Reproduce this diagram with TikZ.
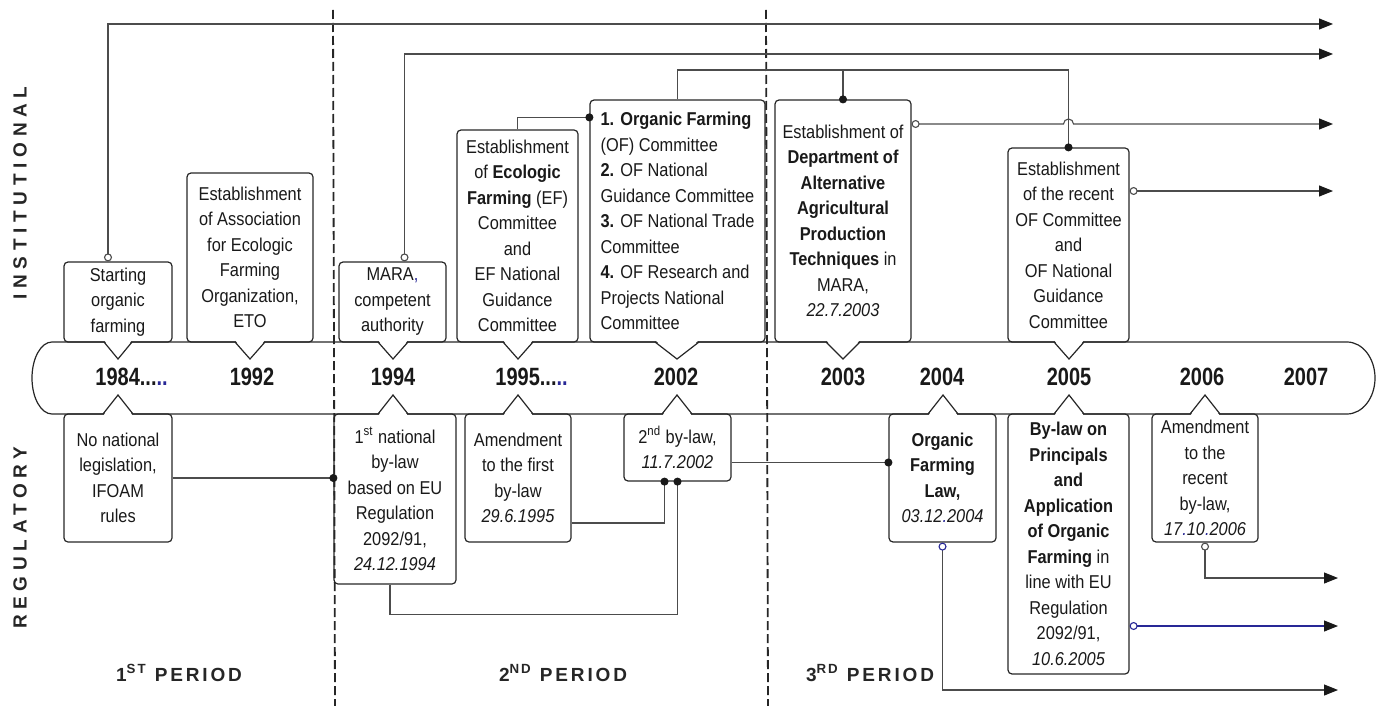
\documentclass[tikz,border=0pt]{standalone}
\usepackage{fontspec}
\setmainfont{Liberation Sans}[FakeStretch=0.88]
\newfontfamily\yearfont{Liberation Sans}[FakeStretch=0.8]
\newfontfamily\spacedfont{Liberation Sans}[LetterSpace=30]
\newfontfamily\periodfont{Liberation Sans}[LetterSpace=15]
\usepackage{tikz}
\usetikzlibrary{arrows.meta}
\definecolor{navy}{RGB}{40,40,150}

\begin{document}
\begin{tikzpicture}[
        x=0.5pt, y=-0.5pt,
        eventbox/.style={rectangle, draw=black!85, line width=0.6pt, rounded corners=2pt, inner sep=0pt, align=center, text=black!90, font=\fontsize{9.3}{12.75}\selectfont},
        frame/.style={draw=black!85, line width=0.6pt},
        year/.style={inner sep=0pt, text=black!90, font=\fontsize{12.5}{14}\selectfont\yearfont\bfseries},
        period/.style={inner sep=0pt, text=black!85, font=\fontsize{9.5}{11}\selectfont\periodfont\bfseries},
        side/.style={inner sep=0pt, rotate=90, text=black!85, font=\fontsize{9.5}{11}\selectfont\spacedfont\bfseries},
        divider/.style={draw=black!85, line width=0.9pt, dash pattern=on 4.5pt off 2pt},
        link/.style={draw=black!70, line width=0.55pt},
        outarrow/.style={{Circle[open, length=4pt]}-{Triangle[length=7pt, width=5.5pt, color=black!90]}},
        dotend/.style={-{Circle[length=4pt, color=black!90]}, shorten >=-2pt}
    ]

    \useasboundingbox (0,0) rectangle (1380,706);

    % Period dividers
    \coordinate (div1a) at (333,10);
    \coordinate (div1b) at (335,706);
    \coordinate (div2a) at (766,10);
    \coordinate (div2b) at (768,706);
    \draw[divider] (div1a) -- (div1b);
    \draw[divider] (div2a) -- (div2b);

    % Timeline bar
    \draw[frame] (52,342) -- (1347,342) arc[start angle=-90, end angle=90, x radius=28, y radius=36]
        -- (52,414) arc[start angle=90, end angle=270, x radius=20, y radius=36] -- cycle;

    % Years
    \node[year, anchor=west] (y1984) at (95,377) {1984...{\color{navy}..}};
    \node[year] (y1992) at (252,377) {1992};
    \node[year] (y1994) at (393,377) {1994};
    \node[year, anchor=west] (y1995) at (495,377) {1995...{\color{navy}..}};
    \node[year] (y2002) at (676,377) {2002};
    \node[year] (y2003) at (843,377) {2003};
    \node[year] (y2004) at (942,377) {2004};
    \node[year] (y2005) at (1069,377) {2005};
    \node[year] (y2006) at (1202,377) {2006};
    \node[year] (y2007) at (1306,377) {2007};

    % Institutional events above the bar
    \node[eventbox, minimum width=54pt, minimum height=40pt] (ins0) at (118,302) {Starting\\organic\\farming};
    \node[eventbox, minimum width=63pt, minimum height=84.5pt] (ins1) at (250,257.5) {Establishment\\of Association\\for Ecologic\\Farming\\Organization,\\ETO};
    \node[eventbox, minimum width=53.5pt, minimum height=40pt] (ins2) at (392.5,302) {MARA{\color{navy},}\\competent\\authority};
    \node[eventbox, minimum width=60.5pt, minimum height=106pt] (ins3) at (517.5,236) {Establishment\\of \textbf{Ecologic}\\\textbf{Farming} (EF)\\Committee\\and\\EF National\\Guidance\\Committee};
    \node[eventbox, align=left, minimum width=87.5pt, minimum height=121pt] (ins4) at (677.5,221) {\textbf{1. Organic Farming}\\(OF) Committee\\\textbf{2.} OF National\\Guidance Committee\\\textbf{3.} OF National Trade\\Committee\\\textbf{4.} OF Research and\\Projects National\\Committee};
    \node[eventbox, minimum width=68pt, minimum height=121pt] (ins5) at (843,221) {Establishment of\\\textbf{Department of}\\\textbf{Alternative}\\\textbf{Agricultural}\\\textbf{Production}\\\textbf{Techniques} in\\MARA,\\\textit{22.7.2003}};
    \node[eventbox, minimum width=60.5pt, minimum height=97pt] (ins6) at (1068.5,245) {Establishment\\of the recent\\OF Committee\\and\\OF National\\Guidance\\Committee};

    % Regulatory events below the bar
    \node[eventbox, minimum width=54pt, minimum height=64pt] (reg0) at (118,478) {No national\\legislation,\\IFOAM\\rules};
    \node[eventbox, minimum width=61pt, minimum height=85pt] (reg1) at (395,499) {1\textsuperscript{st} national\\by-law\\based on EU\\Regulation\\2092/91,\\\textit{24.12.1994}};
    \node[eventbox, minimum width=53pt, minimum height=64pt] (reg2) at (518,478) {Amendment\\to the first\\by-law\\\textit{29.6.1995}};
    \node[eventbox, minimum width=53.5pt, minimum height=33.5pt] (reg3) at (677.5,447.5) {2\textsuperscript{nd} by-law,\\\textit{11.7.2002}};
    \node[eventbox, minimum width=53.5pt, minimum height=64pt] (reg4) at (942.5,478) {\textbf{Organic}\\\textbf{Farming}\\\textbf{Law,}\\\textit{03.12{\color{navy}.}2004}};
    \node[eventbox, minimum width=60.5pt, minimum height=130pt] (reg5) at (1068.5,544) {\textbf{By-law on}\\\textbf{Principals}\\\textbf{and}\\\textbf{Application}\\\textbf{of Organic}\\\textbf{Farming} in\\line with EU\\Regulation\\2092/91,\\\textit{10.6.2005}};
    \node[eventbox, minimum width=53pt, minimum height=64pt] (reg6) at (1205,478) {Amendment\\to the\\recent\\by-law,\\\textit{17{\color{navy}.}10{\color{navy}.}2006}};

    % Pointers from the boxes into the bar
    \foreach \nx/\nw in {118/14, 250/15, 393/15, 518/15, 677/22, 843/17, 1069/15} {
        \fill[white] (\nx-\nw,340) -- (\nx+\nw,340) -- (\nx,359) -- cycle;
        \draw[frame] (\nx-\nw,342) -- (\nx,359) -- (\nx+\nw,342);
    }
    \foreach \nx in {118, 393, 518, 677, 943, 1069, 1205} {
        \fill[white] (\nx-15,416) -- (\nx+15,416) -- (\nx,395) -- cycle;
        \draw[frame] (\nx-15,414) -- (\nx,395) -- (\nx+15,414);
    }

    % Institutional links
    \coordinate (iout1) at (1333,24);
    \coordinate (iout2) at (1333,54);
    \coordinate (ihub) at (843,70);
    \coordinate (iout3) at (1333,124);
    \coordinate (iout4) at (1333,191);

    \draw[link, outarrow] ([xshift=-5pt]ins0.north) |- (iout1);
    \draw[link, outarrow] ([xshift=6pt]ins2.north) |- (iout2);
    \draw[link, dotend] (ins3.north) |- ([yshift=-9pt]ins4.north west);
    \draw[link, dotend] (ins4.north) |- (ihub) -| (ins6.north);
    \draw[link, dotend] (ihub) -- (ins5.north);
    \draw[link, outarrow] (ins5.east |- iout3) -- ([xshift=-2.5pt]ins6.north |- iout3)
        arc[start angle=180, end angle=0, radius=2.5pt] -- (iout3);
    \draw[link, outarrow] (ins6.east |- iout4) -- (iout4);

    % Regulatory links
    \coordinate (rout1) at (1338,578);
    \coordinate (rout2) at (1338,626);
    \coordinate (rout3) at (1338,690);

    \draw[link, dotend] (reg0.east) -- (reg0.east -| reg1.west);
    \draw[link, dotend] ([xshift=-2.5pt]reg1.south) -- ++(0,30) -| (reg3.south);
    \draw[link, dotend] ([yshift=-22.5pt]reg2.east) -| ([xshift=-6.5pt]reg3.south);
    \draw[link, dotend] ([yshift=-7.5pt]reg3.east) -- ([yshift=-7.5pt]reg3.east -| reg4.west);
    \draw[link, {Circle[open, length=4pt, color=navy]}-{Triangle[length=7pt, width=5.5pt, color=black!90]}] (reg4.south) |- (rout3);
    \draw[link, outarrow, draw=navy] (reg5.east |- rout2) -- (rout2);
    \draw[link, outarrow] (reg6.south) |- (rout1);

    % Labels
    \node[side] (inst) at (20,193) {INSTITUTIONAL};
    \node[side] (regl) at (20,538) {REGULATORY};
    \node[period] (p1) at (179,673) {1\textsuperscript{ST} PERIOD};
    \node[period] (p2) at (563,673) {2\textsuperscript{ND} PERIOD};
    \node[period] (p3) at (870,673) {3\textsuperscript{RD} PERIOD};

\end{tikzpicture}
\end{document}
